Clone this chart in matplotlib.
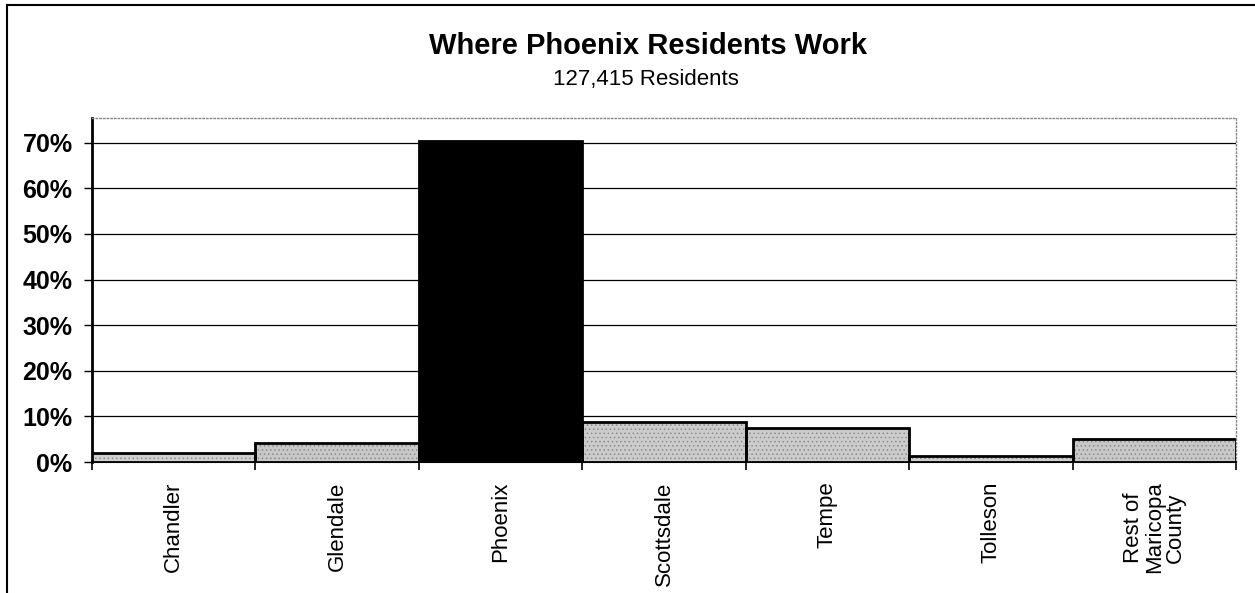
import matplotlib
matplotlib.use('Agg')
from matplotlib import pyplot as plt
from matplotlib.lines import Line2D
import numpy as np

plt.rcParams['font.family'] = ['Liberation Sans', 'DejaVu Sans']
plt.rcParams['hatch.linewidth'] = 0.6

# data
cities = ['Chandler', 'Glendale', 'Phoenix', 'Scottsdale', 'Tempe', 'Tolleson',
          'Rest of\nMaricopa\nCounty']
shares = [2.0, 4.1, 70.3, 8.8, 7.4, 1.3, 5.0]
bar_colors = ['#d0d0d0', '#c8c8c8', '#000000', '#cccccc', '#cccccc', '#d0d0d0', '#c8c8c8']
y_ticks = [0, 10, 20, 30, 40, 50, 60, 70]

fig = plt.figure(figsize=(12.55, 5.93), dpi=100)
W, H = 1255, 593
# plot area in pixels: left 92, right 1236, top 118, bottom 462
ax = fig.add_axes([92 / W, 1 - 462 / H, (1236 - 92) / W, (462 - 118) / H])

x = np.arange(len(cities))
# stippled fill, then a black outline on top
fill = ax.bar(x, shares, width=1.0, color=bar_colors, edgecolor='#8c8c8c', hatch='....',
              linewidth=0, zorder=3)
for patch, c in zip(fill.patches, bar_colors):
    if c == '#000000':
        patch.set_hatch(None)
ax.bar(x, shares, width=1.0, fill=False, edgecolor='black', linewidth=2, zorder=4)

ax.set_xlim(-0.5, len(cities) - 0.5)
ax.set_ylim(0, 75.4)

ax.set_yticks(y_ticks)
ax.set_yticklabels([f'{v}%' for v in y_ticks], fontsize=18, fontweight='bold')
ax.yaxis.grid(True, color='black', linewidth=0.9, zorder=0)
ax.tick_params(axis='y', length=6, width=1, direction='out', pad=8)

# category boundary ticks, labels at centres
ax.set_xticks(x)
ax.set_xticklabels(cities, rotation=90, fontsize=16, va='top', ha='center',
                   multialignment='center', linespacing=1.0)
ax.tick_params(axis='x', which='major', length=0, pad=14)
ax.set_xticks(np.arange(len(cities) + 1) - 0.5, minor=True)
ax.tick_params(axis='x', which='minor', length=6, width=1.2)

for side in ['top', 'right']:
    ax.spines[side].set_color('#888888')
    ax.spines[side].set_linestyle(':')
    ax.spines[side].set_linewidth(1)
ax.spines['left'].set_linewidth(2)
ax.spines['bottom'].set_linewidth(1.5)

fig.text(648 / W, 1 - 46 / H, 'Where Phoenix Residents Work', ha='center', va='center',
         fontsize=21, fontweight='bold')
fig.text(646 / W, 1 - 79 / H, '127,415 Residents', ha='center', va='center', fontsize=16)

# outer chart border (left and top)
fig.add_artist(Line2D([7 / W, 7 / W], [0, 1 - 5 / H], color='black', linewidth=1.5))
fig.add_artist(Line2D([7 / W, 1], [1 - 5 / H, 1 - 5 / H], color='black', linewidth=1.5))

plt.savefig('out.png', dpi=100)
